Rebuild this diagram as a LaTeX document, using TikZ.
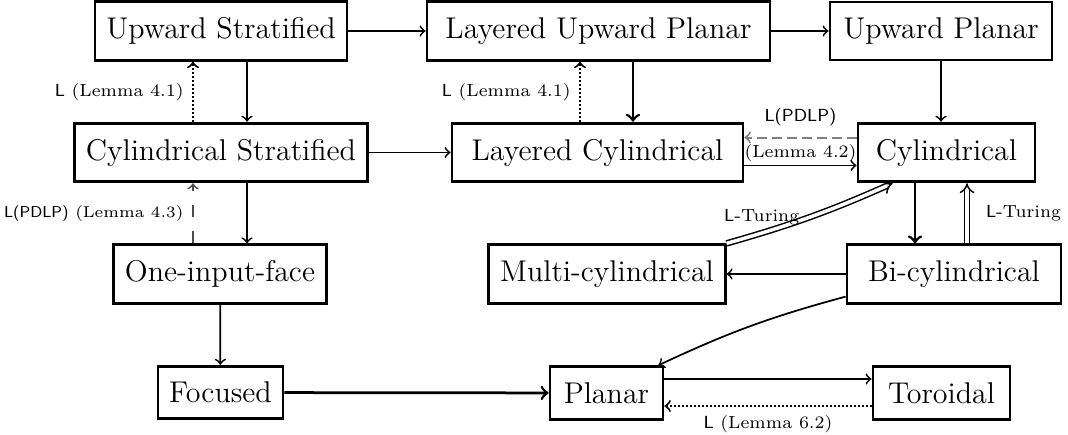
\documentclass[tikz,border=0pt]{standalone}
\usepackage{tikz}
\usetikzlibrary{arrows,arrows.meta,calc}

\tikzset{
  class/.style={draw, line width=1.1pt, font=\large, inner xsep=4.5pt, inner ysep=6.3pt},
  imp/.style={->, line width=0.7pt},
  boldimp/.style={->, line width=1.1pt},
  lem/.style={font=\scriptsize, text=black},
  dotimp/.style={->, line width=0.8pt, dash pattern=on 0.8pt off 0.8pt},
  dashimp/.style={->, line width=0.8pt, dash pattern=on 4pt off 2pt, gray},
  longdash/.style={->, line width=0.7pt, dash pattern=on 5pt off 5.5pt, black!70},
  turing/.style={-{Implies}, double, line width=0.6pt, double distance=1.4pt},
}

\begin{document}
\begin{tikzpicture}[x=0.4pt,y=-0.4pt,>=to]
    \useasboundingbox (0,0) rectangle (1068,434);
    %top row
    \node[class] (US) at (221,31) {Upward Stratified};
    \node[class, minimum width=137.2pt] (LUP) at (598.5,31) {Layered Upward Planar};
    \node[class, minimum width=88.8pt] (UP) at (941,31) {Upward Planar};
    %cylindrical row
    \node[class] (CS) at (221,152.5) {Cylindrical Stratified};
    \node[class, minimum width=116.4pt] (LC) at (597.5,152.5) {Layered Cylindrical};
    \node[class, minimum width=70.8pt] (Cyl) at (946.5,152.5) {Cylindrical};
    %third row
    \node[class] (OIF) at (220,274) {One-input-face};
    \node[class] (MC) at (607,274) {Multi-cylindrical};
    \node[class, minimum width=85.6pt] (BC) at (954,274) {Bi-cylindrical};
    %bottom row
    \node[class] (Foc) at (220.5,392.5) {Focused};
    \node[class, minimum width=45.2pt] (Pl) at (606.5,393) {Planar};
    \node[class, minimum width=54.8pt] (Tor) at (941.5,393) {Toroidal};

    %horizontal edges
    \draw[imp] (US) -- (LUP);
    \draw[imp] (LUP) -- (UP);
    \draw[imp] (CS) -- (LC);
    \draw[imp] ($(LC.east)+(0,13)$) -- ($(Cyl.west)+(0,13)$);
    \draw[dashimp] ($(Cyl.west)+(0,-15)$) -- node[lem,above=1pt] {\textsf{L(PDLP)}} node[lem,below=-1pt] {(Lemma 4.2)} ($(LC.east)+(0,-15)$);
    \draw[imp] (BC) -- (MC);
    \draw[boldimp] (Foc) -- (Pl);
    \draw[imp] ($(Pl.east)+(0,-14)$) -- ($(Tor.west)+(0,-14)$);
    \draw[dotimp] ($(Tor.west)+(0,13)$) -- node[lem,below] {\textsf{L} (Lemma 6.2)} ($(Pl.east)+(0,13)$);

    %left column
    \draw[imp] ($(US.south)+(26,0)$) -- ($(CS.north)+(26,0)$);
    \draw[dotimp] ($(CS.north)+(-28,0)$) -- node[lem,left] {\textsf{L} (Lemma 4.1)} ($(US.south)+(-28,0)$);
    \draw[imp] ($(CS.south)+(26,0)$) -- ($(OIF.north)+(27,0)$);
    \draw[longdash] ($(OIF.north)+(-27,0)$) -- node[lem,left=2.5pt,inner xsep=1pt,font=\fontsize{6.3}{8}\selectfont] {\textsf{L(PDLP)} (Lemma 4.3)} ($(CS.south)+(-28,0)$);
    \draw[imp] (OIF) -- (Foc);

    %middle column
    \draw[boldimp] ($(LUP.south)+(34.5,0)$) -- ($(LC.north)+(35.5,0)$);
    \draw[dotimp] ($(LC.north)+(-17.5,0)$) -- node[lem,left] {\textsf{L} (Lemma 4.1)} ($(LUP.south)+(-18.5,0)$);

    %right column
    \draw[imp] (UP.south) -- (UP.south |- Cyl.north);
    \draw[boldimp] ($(Cyl.south)+(-31.5,0)$) -- ($(BC.north)+(-39,0)$);
    \draw[turing] ($(BC.north)+(13,0)$) -- node[lem,right=4pt] {\textsf{L}-Turing} ($(Cyl.south)+(20.5,0)$);
    \draw[turing] (MC.north east) to[bend right=4] node[lem,left=1pt] {\textsf{L}-Turing} ($(Cyl.south west)+(36,0)$);
    \draw[imp] ($(BC.south west)+(0,-8)$) to[bend right=5] ($(Pl.north east)+(-6,0)$);
\end{tikzpicture}
\end{document}
